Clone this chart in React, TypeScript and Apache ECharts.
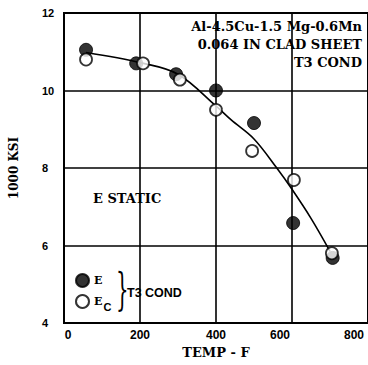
import React, { useEffect, useRef } from "react";
import * as echarts from "echarts";

const xTicks = [0, 200, 400, 600, 800];
const yTicks = [4, 6, 8, 10, 12];
const tempE = [58, 190, 295, 400, 500, 603, 707];
const valE = [11.05, 10.7, 10.42, 10.0, 9.16, 6.58, 5.68];
const tempEc = [58, 208, 305, 400, 495, 605, 705];
const valEc = [10.8, 10.7, 10.28, 9.5, 8.44, 7.69, 5.8];
const curveT = [58, 200, 300, 400, 440, 500, 560, 600, 650, 700];
const curveV = [10.98, 10.72, 10.42, 9.6, 9.24, 8.75, 8.0, 7.45, 6.7, 5.85];
const noteLines = ["Al-4.5Cu-1.5 Mg-0.6Mn", "0.064 IN CLAD SHEET", "T3 COND"];

const serif = "'DejaVu Serif', serif";
const sans = "'Liberation Sans', Arial, sans-serif";

export default function App() {
  const ref = useRef<HTMLDivElement>(null);
  useEffect(() => {
    const chart = echarts.init(ref.current!, null, { renderer: "svg" });
    const labelShift: Record<string, number> = { "0": -8, "600": 24, "800": 28 };
    chart.setOption({
      animation: false,
      backgroundColor: "#fff",
      grid: {
        left: 59,
        top: 13,
        width: 312,
        height: 310,
        show: true,
        borderColor: "#000",
        borderWidth: 2,
      },
      xAxis: {
        type: "value",
        min: xTicks[0],
        max: xTicks[xTicks.length - 1],
        interval: 200,
        name: "TEMP - F",
        nameLocation: "middle",
        nameGap: 22,
        nameTextStyle: { fontFamily: serif, fontWeight: "bold", fontSize: 13, color: "#000" },
        axisLine: { show: true, lineStyle: { color: "#000", width: 2 } },
        axisTick: { show: false },
        splitLine: { show: true, lineStyle: { color: "#000", width: 1.6 } },
        axisLabel: {
          margin: 6,
          formatter: (v: number) => {
            const s = String(v);
            return `{${"l" + s}|${s}}`;
          },
          rich: Object.fromEntries(
            xTicks.map((t) => {
              const sh = labelShift[String(t)] || 0;
              return [
                "l" + t,
                {
                  fontFamily: sans,
                  fontWeight: "bold",
                  fontSize: 12,
                  color: "#000",
                  padding: sh > 0 ? [0, sh, 0, 0] : [0, 0, 0, -sh],
                },
              ];
            })
          ),
        },
      },
      yAxis: {
        type: "value",
        min: yTicks[0],
        max: yTicks[yTicks.length - 1],
        interval: 2,
        name: "1000 KSI",
        nameLocation: "middle",
        nameRotate: 90,
        nameGap: 44,
        nameTextStyle: { fontFamily: serif, fontWeight: "bold", fontSize: 12, color: "#000" },
        axisLine: { show: true, lineStyle: { color: "#000", width: 2 } },
        axisTick: { show: false },
        splitLine: { show: true, lineStyle: { color: "#000", width: 1.6 } },
        axisLabel: {
          margin: 22,
          align: "left",
          fontFamily: sans,
          fontWeight: "bold",
          fontSize: 11,
          color: "#000",
        },
      },
      legend: {
        data: ["E", "E_C"],
        orient: "vertical",
        left: 75,
        top: 273,
        padding: 0,
        itemGap: 6,
        itemWidth: 13,
        itemHeight: 13,
        icon: "circle",
        formatter: (n: string) => (n === "E_C" ? "{b|E}{s|C}" : "{b|E}"),
        textStyle: {
          rich: {
            b: { fontFamily: serif, fontWeight: "bold", fontSize: 11, color: "#000" },
            s: { fontFamily: sans, fontWeight: "bold", fontSize: 11, color: "#000", padding: [10, 0, 0, 1] },
          },
        },
      },
      graphic: [
        {
          type: "group",
          z: 1,
          children: [
            ...noteLines.map((t, i) => ({
              type: "text",
              x: 364,
              y: 19 + i * 18,
              style: {
                text: t,
                align: "right",
                font: `bold 13px ${serif}`,
                fill: "#000",
                backgroundColor: "#fff",
                padding: [1, 2, 1, 3],
              },
            })),
            {
              type: "rect",
              shape: { x: 88, y: 181, width: 84, height: 33 },
              style: { fill: "#fff" },
            },
            {
              type: "text",
              x: 93,
              y: 192,
              style: { text: "E STATIC", font: `bold 13px ${serif}`, fill: "#000" },
            },
            {
              type: "rect",
              shape: { x: 115, y: 268, width: 72, height: 42 },
              style: { fill: "#fff" },
            },
            {
              type: "text",
              x: 116,
              y: 268,
              scaleX: 0.45,
              style: { text: "}", font: `44px ${serif}`, fill: "#000" },
            },
            {
              type: "text",
              x: 127,
              y: 286,
              style: { text: "T3 COND", font: `bold 12.5px ${sans}`, fill: "#000" },
            },
          ],
        },
      ],
      series: [
        {
          name: "curve",
          type: "line",
          data: curveT.map((t, i) => [t, curveV[i]]),
          smooth: 0.35,
          showSymbol: false,
          lineStyle: { color: "#000", width: 1.6 },
          z: 3,
        },
        {
          name: "E",
          type: "scatter",
          data: tempE.map((t, i) => [t, valE[i]]),
          symbol: "circle",
          symbolSize: 13,
          itemStyle: { color: "#000", borderColor: "#000", borderWidth: 1 },
          z: 4,
        },
        {
          name: "E_C",
          type: "scatter",
          data: tempEc.map((t, i) => [t, valEc[i]]),
          symbol: "circle",
          symbolSize: 12,
          itemStyle: { color: "#fff", borderColor: "#000", borderWidth: 1.8 },
          z: 5,
        },
      ],
    });
    return () => chart.dispose();
  }, []);
  return (
    <div
      ref={ref}
      style={{ position: "fixed", left: 0, top: 0, width: 368, height: 365, background: "#fff" }}
    />
  );
}
